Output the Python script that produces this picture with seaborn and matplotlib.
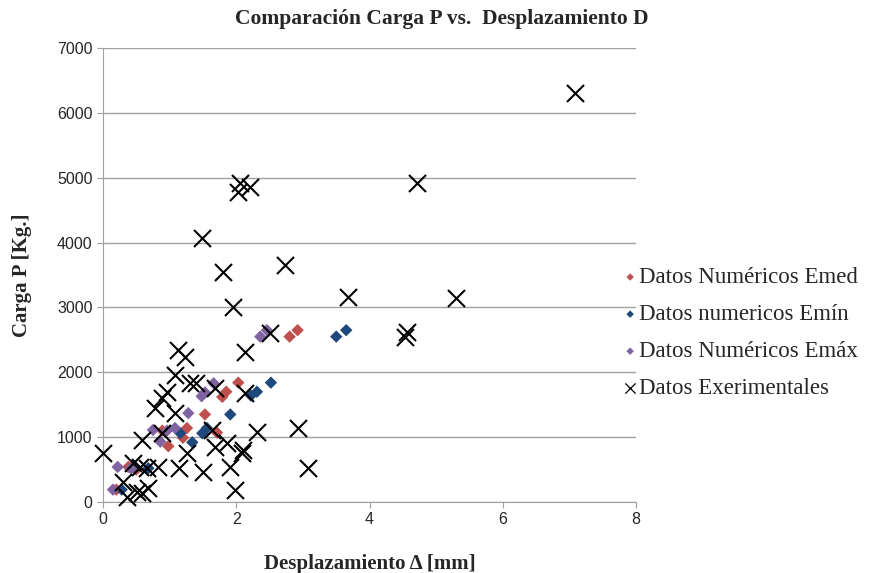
import pandas as pd
import seaborn as sns
import matplotlib.pyplot as plt

# Numerical data (displacement in mm, load in kg)
emed_d = [0.20, 0.38, 0.50, 0.89, 0.98, 1.20, 1.26, 1.53, 1.71, 1.79, 1.85, 2.03, 2.80, 2.92]
emed_p = [190, 540, 500, 1100, 860, 990, 1140, 1350, 1070, 1620, 1700, 1840, 2550, 2650]

emin_d = [0.28, 0.45, 0.68, 1.16, 1.34, 1.49, 1.56, 1.91, 2.22, 2.31, 2.52, 3.50, 3.65]
emin_p = [190, 540, 520, 1060, 920, 1060, 1140, 1350, 1640, 1700, 1840, 2550, 2650]

emax_d = [0.15, 0.22, 0.42, 0.75, 0.86, 0.96, 1.08, 1.28, 1.48, 1.53, 1.66, 2.36, 2.46]
emax_p = [190, 540, 520, 1110, 930, 1100, 1140, 1370, 1630, 1690, 1830, 2550, 2650]

# Experimental data
exp_d = [0.00, 7.08, 4.71, 2.06, 2.20, 2.03, 1.49, 1.80, 2.73, 1.95, 3.68, 4.56, 4.53,
         5.29, 2.93, 3.08, 2.51, 2.13, 1.13, 1.23, 1.08, 1.31, 1.40, 0.96, 0.89,
         0.78, 1.68, 2.13, 1.08, 2.31, 0.59, 0.89, 1.64, 1.86, 1.68, 2.10, 1.26,
         0.56, 0.45, 0.66, 0.83, 1.14, 1.50, 1.91, 2.09, 0.30, 0.68, 0.51, 0.36,
         0.59, 1.98]
exp_p = [750, 6310, 4920, 4920, 4860, 4780, 4070, 3550, 3650, 3010, 3160, 2620, 2550,
         3140, 1140, 520, 2600, 2320, 2340, 2240, 1960, 1830, 1830, 1700, 1600,
         1450, 1760, 1680, 1370, 1080, 960, 1060, 1110, 910, 850, 800, 750,
         540, 600, 520, 540, 520, 460, 540, 750, 310, 210, 150, 80,
         140, 190]

sns.set_style("white")

fig = plt.figure(figsize=(8.75, 5.73), dpi=100)
ax = fig.add_axes([0.1177, 0.124, 0.6093, 0.792])

sns.scatterplot(x=emed_d, y=emed_p, ax=ax, marker="D", s=40, color="#C0504D",
                edgecolor="none", label="Datos Numéricos Emed")
sns.scatterplot(x=emin_d, y=emin_p, ax=ax, marker="D", s=40, color="#1F497D",
                edgecolor="none", label="Datos numericos Emín")
sns.scatterplot(x=emax_d, y=emax_p, ax=ax, marker="D", s=40, color="#8064A2",
                edgecolor="none", label="Datos Numéricos Emáx")
sns.scatterplot(x=exp_d, y=exp_p, ax=ax, marker="x", s=150, color="black",
                linewidth=1.5, label="Datos Exerimentales", clip_on=False, zorder=5)

ax.set_xlim(0, 8)
ax.set_ylim(0, 7000)
ax.set_xticks([0, 2, 4, 6, 8])
ax.set_yticks(range(0, 7001, 1000))
ax.yaxis.grid(True, color="#A0A0A0", linewidth=1)
ax.set_axisbelow(True)
for side in ["top", "right"]:
    ax.spines[side].set_visible(False)
for side in ["left", "bottom"]:
    ax.spines[side].set_color("#A0A0A0")
ax.tick_params(axis="both", which="both", length=4, color="#A0A0A0",
               direction="out", labelsize=11.5)
ax.tick_params(left=True, bottom=True)
for lab in ax.get_xticklabels() + ax.get_yticklabels():
    lab.set_family("Liberation Sans")

ax.set_xlabel("Desplazamiento Δ [mm]", family="Liberation Serif", fontweight="bold",
              fontsize=15, labelpad=19)
ax.set_ylabel("Carga P [Kg.]", family="Liberation Serif", fontweight="bold",
              fontsize=15, labelpad=18)
fig.suptitle("Comparación Carga P vs.  Desplazamiento D", x=0.505, y=0.985,
             family="Liberation Serif", fontweight="bold", fontsize=15.5)

leg = ax.legend(loc="upper left", bbox_to_anchor=(0.711, 0.534),
                bbox_transform=fig.transFigure, frameon=False,
                prop={"family": "Liberation Serif", "size": 16.5},
                handletextpad=0.05, labelspacing=0.7, markerscale=0.6,
                handlelength=0.7, borderaxespad=0, borderpad=0)
# thinner cross in the legend, as in the original
leg.legend_handles[3].set_linewidth(0.9)

fig.savefig("out.png", dpi=100)
